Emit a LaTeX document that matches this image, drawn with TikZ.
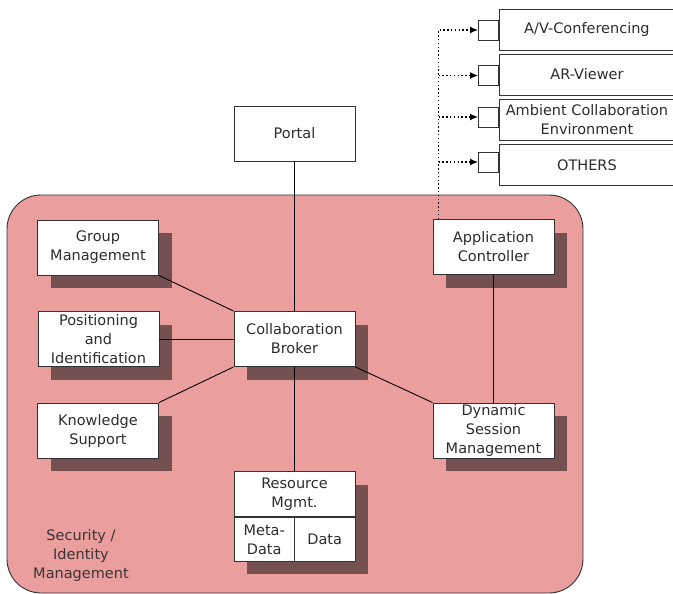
\documentclass[tikz,border=0pt]{standalone}
\usepackage{fontspec}
\setmainfont{DejaVu Sans}
\usetikzlibrary{shadows,arrows.meta}
\definecolor{secfill}{RGB}{234,158,158}
\definecolor{shadowcol}{RGB}{117,80,80}
\definecolor{boxline}{RGB}{50,50,50}
\definecolor{txt}{RGB}{45,45,45}
\begin{document}
\begin{tikzpicture}[x=1pt,y=-1pt,thick,
            main node/.style={rectangle,draw=boxline,fill=white,line width=0.9pt,
                text=txt,align=center,inner sep=0pt,
                font=\fontsize{14.5}{19}\selectfont,
                minimum width=121pt,minimum height=55pt},
            shadow node/.style={main node,general shadow={fill=shadowcol,
                shadow xshift=13pt,shadow yshift=-13pt}},
            app node/.style={main node,minimum width=175pt,minimum height=41pt,anchor=west},
            plug/.style={rectangle,draw=boxline,fill=white,line width=0.9pt,
                minimum size=20pt,inner sep=0pt,anchor=east},
            dot arrow/.style={line width=1.4pt,dash pattern=on 1.4pt off 2.4pt,
                -{Latex[length=8pt,width=7pt]}}]

        \useasboundingbox (0,0) rectangle (673,594);

        % Security area
        \node[draw=boxline,fill=secfill,line width=0.9pt,rounded corners=34pt,
            minimum width=576pt,minimum height=398pt,inner sep=0pt] (sec) at (295,394) {};
        \node[text=txt!80!shadowcol,align=center,font=\fontsize{14.5}{19}\selectfont]
            (seclabel) at (81,555) {Security /\\Identity\\Management};

        % Define vertices
        \node[main node] (portal) at (294.5,133.5) {Portal};
        \node[shadow node] (group) at (98,247.5) {Group\\Management};
        \node[shadow node] (posid) at (98.5,339) {Positioning\\and\\Identification};
        \node[shadow node] (know) at (98,430.5) {Knowledge\\Support};
        \node[shadow node] (broker) at (294.5,339) {Collaboration\\Broker};
        \node[shadow node] (appctl) at (493.5,247) {Application\\Controller};
        \node[shadow node] (dynsess) at (493.5,430.5) {Dynamic\\Session\\Management};
        \node[shadow node,minimum height=45pt] (resmgmt) at (294.5,494) {Resource\\Mgmt.};
        \node[shadow node,minimum width=60.5pt,minimum height=44pt,anchor=north west]
            (meta) at (resmgmt.south west) {Meta-\\Data};
        \node[shadow node,minimum width=60.5pt,minimum height=44pt,anchor=north east]
            (data) at (resmgmt.south east) {Data};

        % Applications
        \node[app node] (av) at (499,29.5) {A/V-Conferencing};
        \node[app node] (arv) at (499,74.5) {AR-Viewer};
        \node[app node] (ace) at (499,119.5) {Ambient Collaboration\\Environment};
        \node[app node] (others) at (499,165) {OTHERS};
        \node[plug] (avplug) at (499,30) {};
        \node[plug] (arvplug) at (499,75.5) {};
        \node[plug] (aceplug) at (499,117) {};
        \node[plug] (othersplug) at (499,162) {};

        % Draw edges
        \path[draw,line width=0.9pt]
            (portal) edge (broker)
            (group.south east) edge (broker.north west)
            (posid) edge (broker)
            (know.north east) edge (broker.south west)
            (broker) edge (resmgmt)
            (broker.south east) edge (dynsess.north west)
            (appctl) edge (dynsess);

        \coordinate (tap) at ([xshift=6pt]appctl.north west);
        \draw[dot arrow] (tap) |- (avplug.west);
        \draw[dot arrow] (tap |- arvplug.west) -- (arvplug.west);
        \draw[dot arrow] (tap |- aceplug.west) -- (aceplug.west);
        \draw[dot arrow] (tap |- othersplug.west) -- (othersplug.west);

        \end{tikzpicture}
\end{document}
